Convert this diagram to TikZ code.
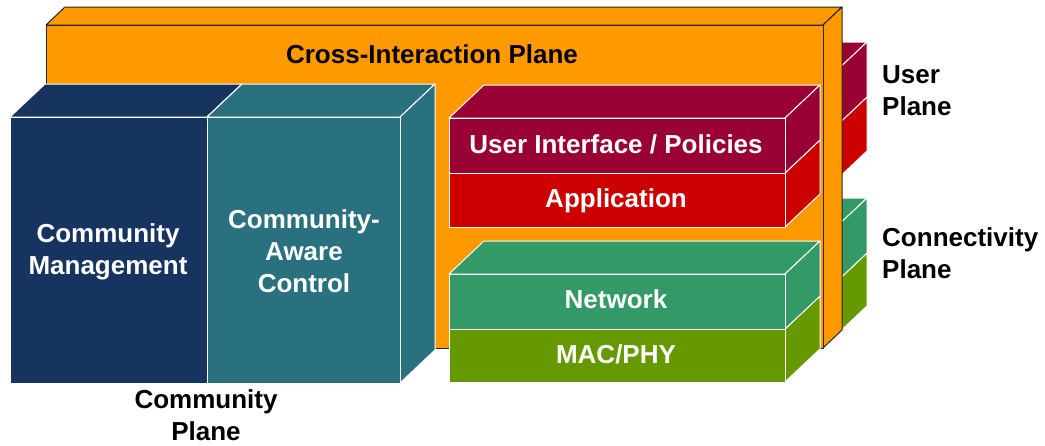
\documentclass[tikz,border=0pt]{standalone}
\usepackage{fontspec}
\setmainfont{Liberation Sans}

\definecolor{naranja}{HTML}{FF9900}
\definecolor{azul}{HTML}{17335F}
\definecolor{verdeazul}{HTML}{2A717F}
\definecolor{granate}{HTML}{990033}
\definecolor{rojo}{HTML}{CC0000}
\definecolor{verde}{HTML}{339966}
\definecolor{oliva}{HTML}{669900}

% caja 3D: x, y (esquina frontal sup. izq.), ancho, alto, color
\newcommand{\caja}[5]{%
  \filldraw[cara, fill=#5] (#1,#2) -- ++(#3,0) -- ++(35,-33) -- ++(-#3,0) -- cycle;
  \filldraw[cara, fill=#5] (#1+#3,#2) -- ++(35,-33) -- ++(0,#4) -- ++(-35,33) -- cycle;
  \filldraw[cara, fill=#5] (#1,#2) rectangle ++(#3,#4);
}

\begin{document}
\begin{tikzpicture}[x=1pt,y=-1pt,
  cara/.style={draw=white,line width=1pt,line join=round},
  marco/.style={fill=naranja,draw=black!85,line width=1pt,line join=round},
  etiqueta/.style={font=\fontsize{26}{32}\selectfont\bfseries,inner sep=0pt},
  blanco/.style={etiqueta,text=white,align=center}]
  \useasboundingbox (0,0) rectangle (1045,445);

  % Planos de usuario y conectividad (detrás)
  \foreach \px/\py/\w/\h/\c in {496/130/336/54/rojo, 496/75/336/55/granate,
                                496/286/336/53/oliva, 496/231/336/55/verde}
    \caja{\px}{\py}{\w}{\h}{\c};

  % Plano de interacción cruzada
  \filldraw[marco] (46,25) -- (823,25) -- (842,7) -- (65,7) -- cycle;
  \filldraw[marco] (823,25) -- (842,7) -- (842,330) -- (823,348) -- cycle;
  \filldraw[marco] (46,25) rectangle (823,348);

  % Cajas delanteras
  \foreach \px/\py/\w/\h/\c in {10/117/197/266/azul, 207/117/193/266/verdeazul,
                                449/173/336/54/rojo, 449/118/336/55/granate,
                                449/329/336/53/oliva, 449/274/336/55/verde}
    \caja{\px}{\py}{\w}{\h}{\c};

  % Textos
  \node[etiqueta, anchor=base] (cruce) at (432,63) {Cross-Interaction Plane};
  \node[blanco, anchor=base] (ui) at (616,153) {User Interface / Policies};
  \node[blanco, anchor=base] (app) at (616,207) {Application};
  \node[blanco, anchor=base] (red) at (616,308) {Network};
  \node[blanco, anchor=base] (mac) at (616,363) {MAC/PHY};
  \node[blanco, anchor=base] (gestion) at (108,274) {Community\\Management};
  \node[blanco, anchor=base] (control) at (304,292) {Community-\\Aware\\Control};
  \node[etiqueta, align=center, anchor=base] (comunidad) at (206,440) {Community\\Plane};
  \node[etiqueta, align=left, anchor=base west] (usuario) at (882,115) {User\\Plane};
  \node[etiqueta, align=left, anchor=base west] (conect) at (882,278) {Connectivity\\Plane};
\end{tikzpicture}
\end{document}
